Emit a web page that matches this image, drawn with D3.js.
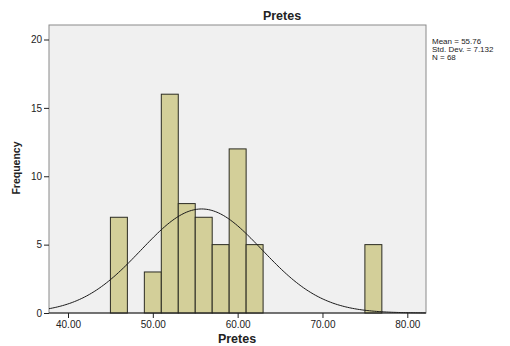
<!DOCTYPE html>
<html>
<head>
<meta charset="utf-8">
<script src="https://d3js.org/d3.v7.min.js"></script>
<style>
  body { margin: 0; background: #fff; }
  svg text { font-family: Arial, 'Liberation Sans', sans-serif; fill: #222; }
</style>
</head>
<body>
<div id="chart"></div>
<script>
// histogram bins (lower edge, upper edge) and counts
var binStart = [45, 49, 51, 53, 55, 57, 59, 61, 75];
var binEnd   = [47, 51, 53, 55, 57, 59, 61, 63, 77];
var counts   = [7, 3, 16, 8, 7, 5, 12, 5, 5];
var xTicks = [40, 50, 60, 70, 80];
var yTicks = [0, 5, 10, 15, 20];
var stats = { mean: 55.76, sd: 7.132, n: 68 };
var statLines = ["Mean = 55.76", "Std. Dev. = 7.132", "N = 68"];

var W = 510, H = 346;
var pLeft = 49, pRight = 426, pTop = 25, pBottom = 313;

var svg = d3.select('#chart').append('svg')
  .attr('width', W).attr('height', H);

var x = d3.scaleLinear().domain([40, 80]).range([68, 407.3]);
var y = d3.scaleLinear().domain([0, 20]).range([pBottom, 39.5]);

// plot background
svg.append('rect')
  .attr('x', pLeft).attr('y', pTop)
  .attr('width', pRight - pLeft).attr('height', pBottom - pTop)
  .attr('fill', '#f0f0f0')
  .attr('stroke', '#8a8a8a').attr('stroke-width', 1);

// bars
svg.selectAll('rect.bar')
  .data(counts)
  .enter()
  .append('rect')
  .attr('class', 'bar')
  .attr('x', function(d, i){ return x(binStart[i]); })
  .attr('y', function(d){ return y(d); })
  .attr('width', function(d, i){ return x(binEnd[i]) - x(binStart[i]); })
  .attr('height', function(d){ return y(0) - y(d); })
  .attr('fill', '#d3cf99')
  .attr('stroke', '#2b2b22')
  .attr('stroke-width', 1);

// fitted normal curve
var lo = x.invert(pLeft), hi = x.invert(pRight);
var scale = stats.n * 2 / (stats.sd * Math.sqrt(2 * Math.PI));
var pts = d3.range(lo, hi + 0.01, 0.2).map(function(v){
  var z = (v - stats.mean) / stats.sd;
  return [v, scale * Math.exp(-0.5 * z * z)];
});
svg.append('path')
  .datum(pts)
  .attr('d', d3.line().x(function(d){ return x(d[0]); }).y(function(d){ return y(d[1]); }))
  .attr('fill', 'none')
  .attr('stroke', '#1a1a1a')
  .attr('stroke-width', 1);

// axes
var xAxis = svg.append('g')
  .attr('transform', 'translate(0,' + pBottom + ')')
  .call(d3.axisBottom(x).tickValues(xTicks).tickSize(5).tickPadding(3)
    .tickFormat(d3.format('.2f')));
xAxis.select('.domain').remove();
xAxis.selectAll('line').attr('stroke', '#222');
xAxis.selectAll('text').attr('font-size', '10px').attr('fill', '#333');

var yAxis = svg.append('g')
  .attr('transform', 'translate(' + pLeft + ',0)')
  .call(d3.axisLeft(y).tickValues(yTicks).tickSize(5).tickPadding(2));
yAxis.select('.domain').remove();
yAxis.selectAll('line').attr('stroke', '#222');
yAxis.selectAll('text').attr('font-size', '10px').attr('fill', '#333');

// darker bottom edge over the frame
svg.append('line')
  .attr('x1', pLeft).attr('x2', pRight)
  .attr('y1', pBottom).attr('y2', pBottom)
  .attr('stroke', '#222');

// titles
svg.append('text')
  .text('Pretes')
  .attr('x', 282).attr('y', 20)
  .attr('text-anchor', 'middle')
  .attr('font-size', '12.5px').attr('font-weight', 'bold');

svg.append('text')
  .text('Pretes')
  .attr('x', 237).attr('y', 343)
  .attr('text-anchor', 'middle')
  .attr('font-size', '12.5px').attr('font-weight', 'bold');

svg.append('text')
  .text('Frequency')
  .attr('transform', 'translate(20,168) rotate(-90)')
  .attr('text-anchor', 'middle')
  .attr('font-size', '10.5px').attr('font-weight', 'bold');

// stats box
svg.selectAll('text.stat')
  .data(statLines)
  .enter()
  .append('text')
  .attr('class', 'stat')
  .text(function(d){ return d; })
  .attr('x', 432)
  .attr('y', function(d, i){ return 44 + i * 8; })
  .attr('font-size', '8px');
</script>
</body>
</html>
